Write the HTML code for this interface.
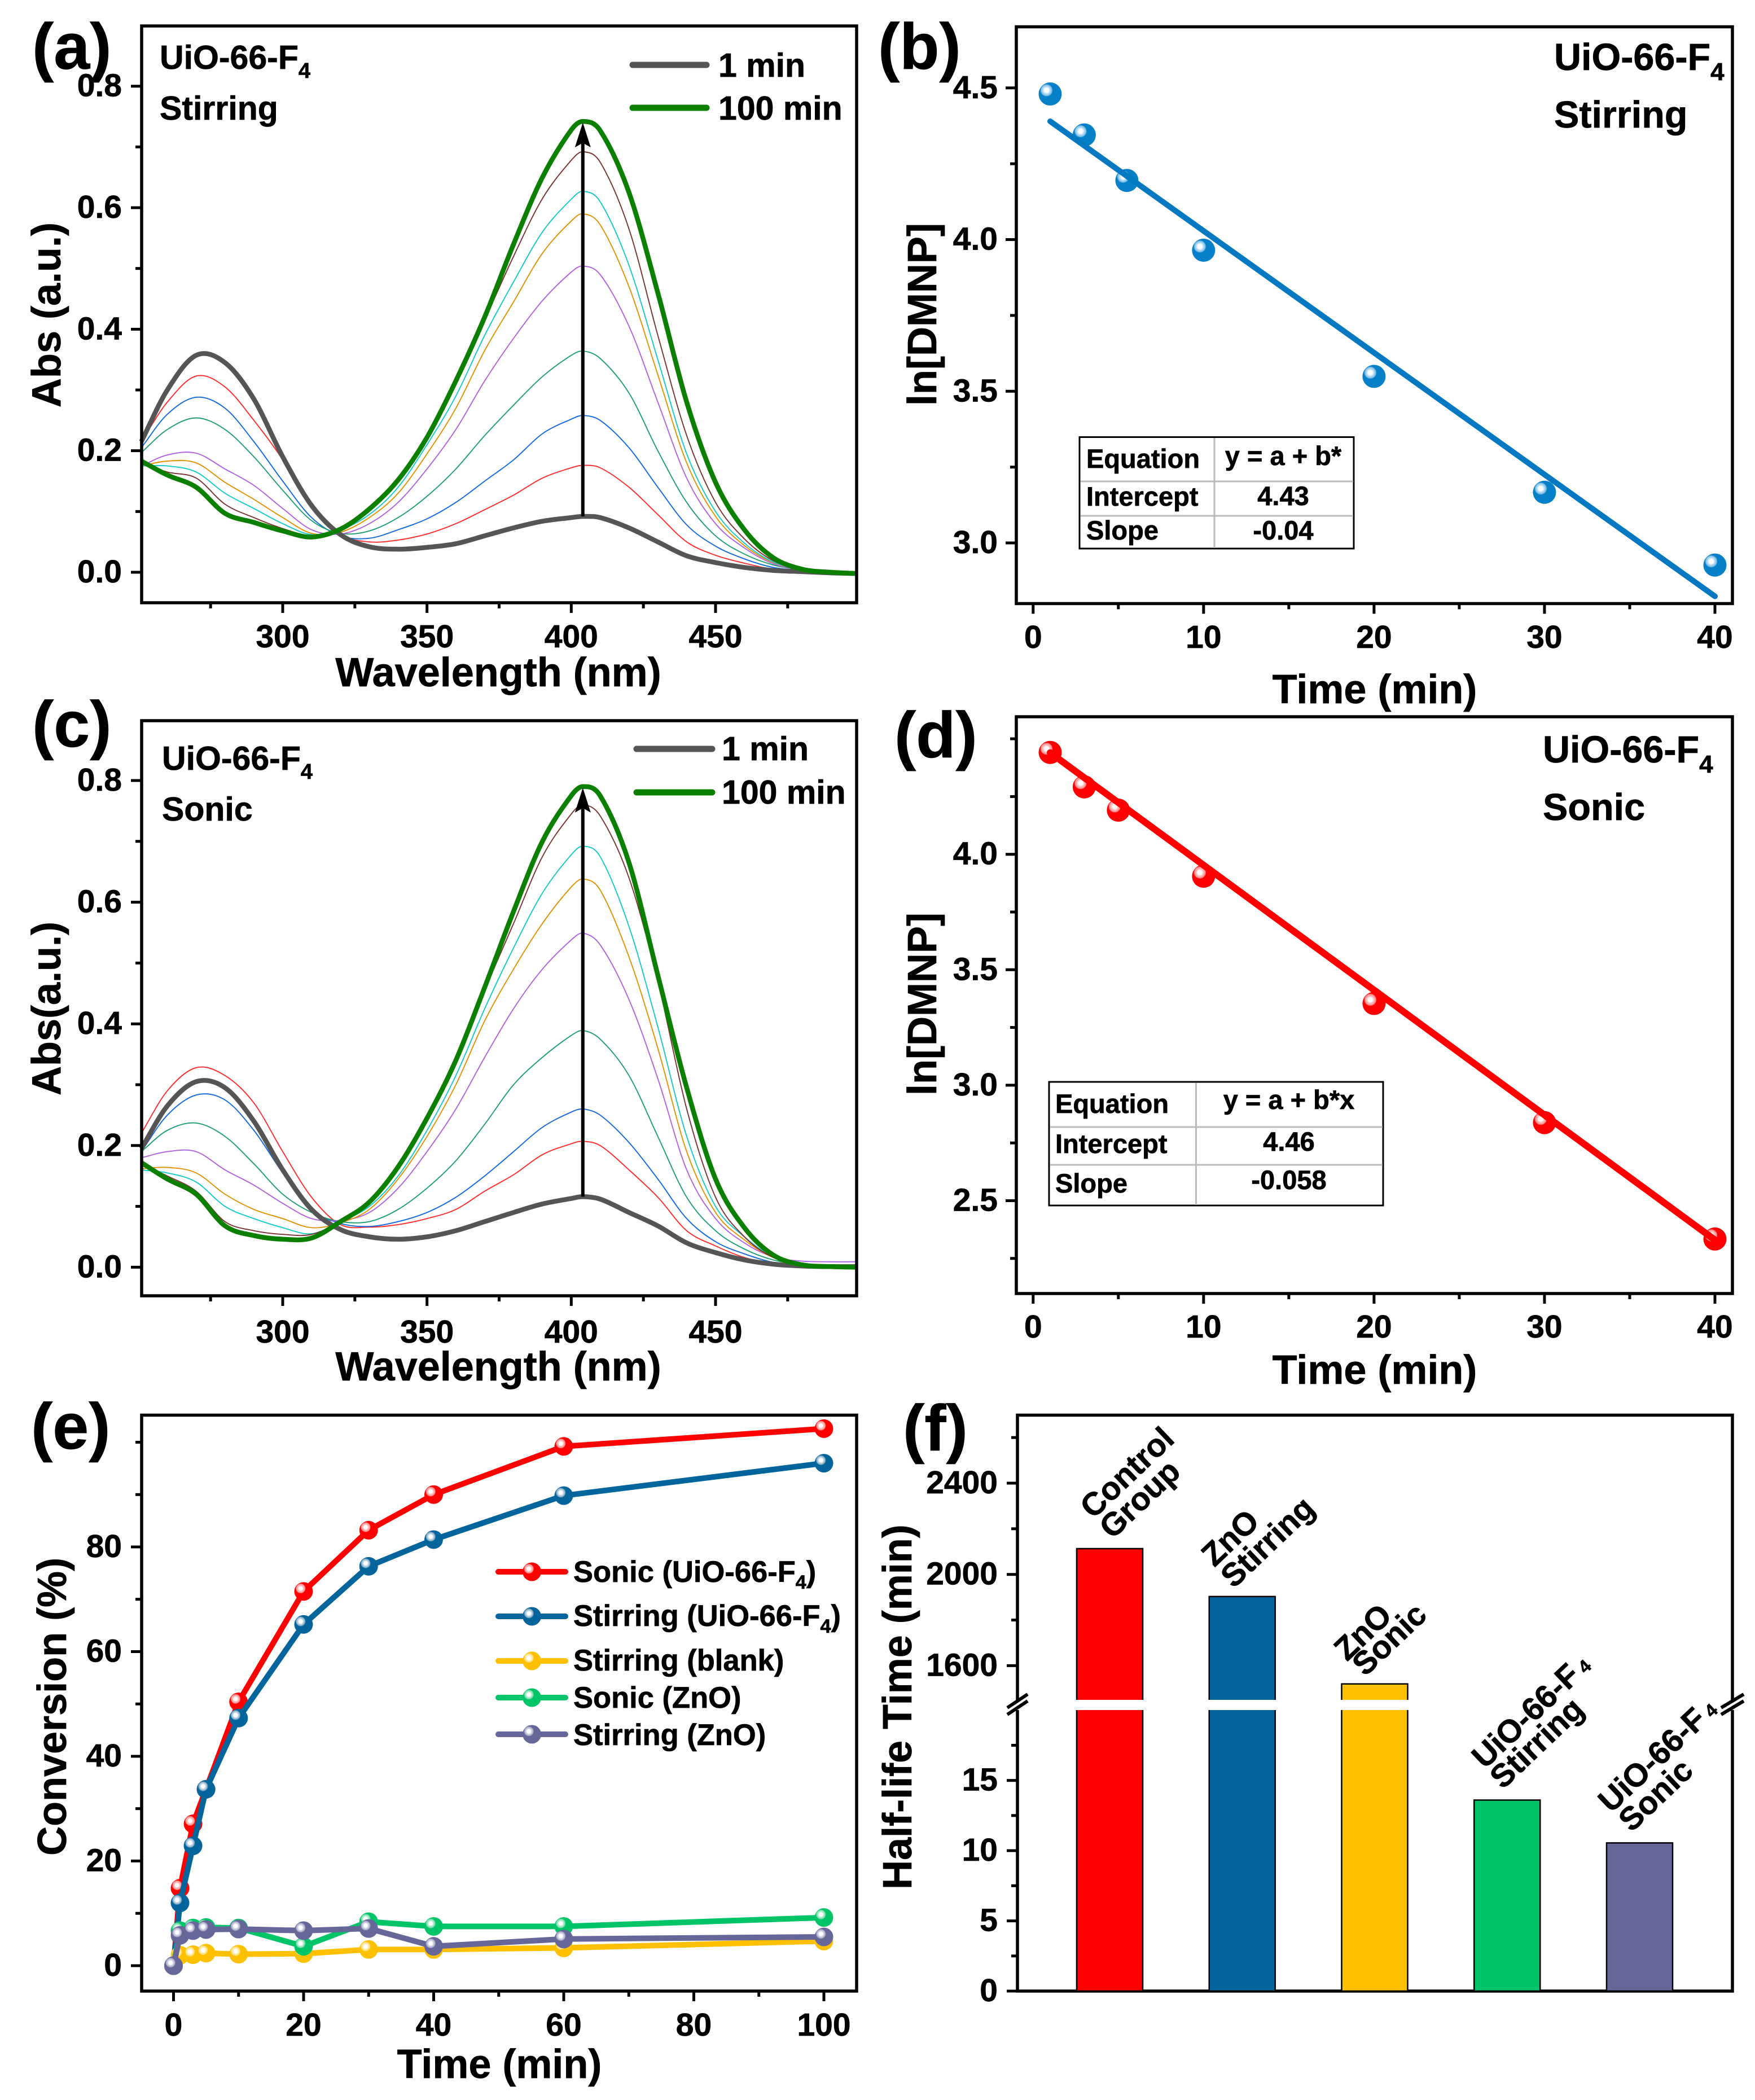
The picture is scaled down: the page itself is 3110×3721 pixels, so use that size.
<!DOCTYPE html>
<html lang="en">
<head>
<meta charset="utf-8">
<title>UiO-66-F4 DMNP hydrolysis figure</title>
<style>
html,body{margin:0;padding:0;background:#fff;}
svg{display:block;}
text{font-family:"Liberation Sans",sans-serif;font-weight:bold;fill:#000;stroke:#000;stroke-width:.7px;}
.frame{fill:none;stroke:#000;stroke-width:5.5;}
.axt{font-size:72px;}
.ann{font-size:59px;}
.ann2{font-size:66.5px;}
.let{font-size:115px;}
.tb{font-size:47px;}
.leg{font-size:52.5px;}
.bl{font-size:57px;}
</style>
</head>
<body>
<svg xmlns="http://www.w3.org/2000/svg" width="3110" height="3721" viewBox="0 0 3110 3721">
<defs>
<radialGradient id="grad-red" cx=".34" cy=".34" r=".62"><stop offset="0" stop-color="#fff"/><stop offset=".14" stop-color="#fff"/><stop offset=".24" stop-color="#ffc0c0"/><stop offset=".38" stop-color="#ff8c8c"/><stop offset=".44" stop-color="#ff0000"/><stop offset="1" stop-color="#ff0000"/></radialGradient>
<radialGradient id="grad-navy" cx=".34" cy=".34" r=".62"><stop offset="0" stop-color="#fff"/><stop offset=".14" stop-color="#fff"/><stop offset=".24" stop-color="#c4d8e6"/><stop offset=".38" stop-color="#7fa8c4"/><stop offset=".44" stop-color="#03659c"/><stop offset="1" stop-color="#03659c"/></radialGradient>
<radialGradient id="grad-yellow" cx=".34" cy=".34" r=".62"><stop offset="0" stop-color="#fff"/><stop offset=".14" stop-color="#fff"/><stop offset=".24" stop-color="#ffeeb8"/><stop offset=".38" stop-color="#ffdc70"/><stop offset=".44" stop-color="#ffc000"/><stop offset="1" stop-color="#ffc000"/></radialGradient>
<radialGradient id="grad-green" cx=".34" cy=".34" r=".62"><stop offset="0" stop-color="#fff"/><stop offset=".14" stop-color="#fff"/><stop offset=".24" stop-color="#b8eed2"/><stop offset=".38" stop-color="#70dca6"/><stop offset=".44" stop-color="#00c468"/><stop offset="1" stop-color="#00c468"/></radialGradient>
<radialGradient id="grad-purple" cx=".34" cy=".34" r=".62"><stop offset="0" stop-color="#fff"/><stop offset=".14" stop-color="#fff"/><stop offset=".24" stop-color="#d6d6e6"/><stop offset=".38" stop-color="#a8a8c8"/><stop offset=".44" stop-color="#666699"/><stop offset="1" stop-color="#666699"/></radialGradient>
<radialGradient id="grad-sky" cx=".34" cy=".34" r=".62"><stop offset="0" stop-color="#fff"/><stop offset=".14" stop-color="#fff"/><stop offset=".24" stop-color="#c0e0f4"/><stop offset=".38" stop-color="#78bce6"/><stop offset=".44" stop-color="#0680c8"/><stop offset="1" stop-color="#0680c8"/></radialGradient>
</defs>

<!-- Panel a -->
<g>
<g id="marks-a"></g>
<rect class="frame" x="251" y="46" width="1267" height="1022"/>
<g id="ticks-a"></g>
<text class="let" x="57" y="122">(a)</text>
<text class="ann" x="283" y="122">UiO-66-F<tspan dy="16" font-size="38">4</tspan></text>
<text class="ann" x="283" y="212">Stirring</text>
<line x1="1121" y1="115" x2="1252" y2="115" stroke="#555" stroke-width="11" stroke-linecap="round"/>
<text class="ann" x="1273" y="136">1 min</text>
<line x1="1121" y1="191" x2="1252" y2="191" stroke="#0b8000" stroke-width="11" stroke-linecap="round"/>
<text class="ann" x="1273" y="212">100 min</text>
<text class="axt" x="883" y="1216" text-anchor="middle">Wavelength (nm)</text>
<text class="axt" transform="translate(107,722) rotate(-90)">Abs (a.u.)</text>
</g>

<!-- Panel b -->
<g>
<g id="marks-b"></g>
<rect class="frame" x="1801" y="47.5" width="1269" height="1022"/>
<g id="ticks-b"></g>
<text class="let" x="1556" y="122">(b)</text>
<text class="ann2" x="2754" y="124">UiO-66-F<tspan dy="18" font-size="44">4</tspan></text>
<text class="ann2" x="2754" y="226">Stirring</text>
<g>
<rect x="1913" y="774.5" width="486" height="197.5" fill="#fff" stroke="#000" stroke-width="3"/>
<path d="M2152 776V971M1915 853H2398M1915 914H2398" stroke="#bbb" stroke-width="3" fill="none"/>
<text class="tb" x="1925" y="829">Equation</text>
<text class="tb" x="2274" y="824" text-anchor="middle">y = a + b*</text>
<text class="tb" x="1925" y="896">Intercept</text>
<text class="tb" x="2274" y="895" text-anchor="middle">4.43</text>
<text class="tb" x="1925" y="956">Slope</text>
<text class="tb" x="2274" y="956" text-anchor="middle">-0.04</text>
</g>
<text class="axt" x="2436" y="1246" text-anchor="middle">Time (min)</text>
<text class="axt" transform="translate(1659,719) rotate(-90)">ln[DMNP]</text>
</g>

<!-- Panel c -->
<g>
<g id="marks-c"></g>
<rect class="frame" x="251" y="1277" width="1267" height="1019"/>
<g id="ticks-c"></g>
<text class="let" x="57" y="1323">(c)</text>
<text class="ann" x="287" y="1364">UiO-66-F<tspan dy="16" font-size="38">4</tspan></text>
<text class="ann" x="287" y="1454">Sonic</text>
<line x1="1128" y1="1327" x2="1262" y2="1327" stroke="#555" stroke-width="11" stroke-linecap="round"/>
<text class="ann" x="1279" y="1347">1 min</text>
<line x1="1128" y1="1404" x2="1262" y2="1404" stroke="#0b8000" stroke-width="11" stroke-linecap="round"/>
<text class="ann" x="1279" y="1424">100 min</text>
<text class="axt" x="883" y="2446" text-anchor="middle">Wavelength (nm)</text>
<text class="axt" transform="translate(107,1941) rotate(-90)">Abs(a.u.)</text>
</g>

<!-- Panel d -->
<g>
<g id="marks-d"></g>
<rect class="frame" x="1801" y="1270" width="1269" height="1022"/>
<g id="ticks-d"></g>
<text class="let" x="1585" y="1342">(d)</text>
<text class="ann2" x="2734" y="1351">UiO-66-F<tspan dy="18" font-size="44">4</tspan></text>
<text class="ann2" x="2734" y="1453">Sonic</text>
<g>
<rect x="1859" y="1917" width="592" height="219" fill="#fff" stroke="#000" stroke-width="3"/>
<path d="M2119.5 1919V2135M1861 1997H2450M1861 2064H2450" stroke="#bbb" stroke-width="3" fill="none"/>
<text class="tb" x="1870" y="1972">Equation</text>
<text class="tb" x="2284" y="1965" text-anchor="middle">y = a + b*x</text>
<text class="tb" x="1870" y="2043">Intercept</text>
<text class="tb" x="2284" y="2039" text-anchor="middle">4.46</text>
<text class="tb" x="1870" y="2113">Slope</text>
<text class="tb" x="2284" y="2107" text-anchor="middle">-0.058</text>
</g>
<text class="axt" x="2436" y="2452" text-anchor="middle">Time (min)</text>
<text class="axt" transform="translate(1659,1941) rotate(-90)">ln[DMNP]</text>
</g>

<!-- Panel e -->
<g>
<g id="marks-e"></g>
<rect class="frame" x="251" y="2507.5" width="1267" height="1020.5"/>
<g id="ticks-e"></g>
<text class="let" x="55" y="2567">(e)</text>
<text class="leg" x="1016" y="2803">Sonic (UiO-66-F<tspan dy="12" font-size="34">4</tspan><tspan dy="-12">)</tspan></text>
<text class="leg" x="1016" y="2881">Stirring (UiO-66-F<tspan dy="12" font-size="34">4</tspan><tspan dy="-12">)</tspan></text>
<text class="leg" x="1016" y="2960">Stirring (blank)</text>
<text class="leg" x="1016" y="3026">Sonic (ZnO)</text>
<text class="leg" x="1016" y="3092">Stirring (ZnO)</text>
<text class="axt" x="885" y="3682" text-anchor="middle">Time (min)</text>
<text class="axt" transform="translate(117,3288) rotate(-90)">Conversion (%)</text>
</g>

<!-- Panel f -->
<g>
<rect class="frame" x="1803" y="2507.5" width="1267" height="1020.5"/>
<g id="marks-f"></g>
<g id="ticks-f"></g>
<g>
<rect x="1795" y="3012" width="16" height="18" fill="#fff"/>
<rect x="3062" y="3012" width="16" height="18" fill="#fff"/>
<path d="M1785 3026L1821 3002M1785 3038L1821 3014M3050 3026L3090 3002M3050 3038L3090 3014" stroke="#000" stroke-width="6" fill="none"/>
</g>
<text class="let" x="1600" y="2570">(f)</text>
<g>
<text class="bl" transform="translate(1937,2693) rotate(-43.5)">Control</text>
<text class="bl" transform="translate(1971,2729) rotate(-43.5)">Group</text>
<text class="bl" transform="translate(2152,2778) rotate(-43.5)">ZnO</text>
<text class="bl" transform="translate(2186,2816) rotate(-43.5)">Stirring</text>
<text class="bl" transform="translate(2387,2945) rotate(-43.5)">ZnO</text>
<text class="bl" transform="translate(2419,2972) rotate(-43.5)">Sonic</text>
<text class="bl" transform="translate(2631,3136) rotate(-43.5)">UiO-66-F<tspan dx="8" font-size="32">4</tspan></text>
<text class="bl" transform="translate(2663,3172) rotate(-43.5)">Stirring</text>
<text class="bl" transform="translate(2855,3214) rotate(-43.5)">UiO-66-F<tspan dx="8" font-size="32">4</tspan></text>
<text class="bl" transform="translate(2891,3248) rotate(-43.5)">Sonic</text>
</g>
<text class="axt" transform="translate(1615,3348) rotate(-90)">Half-life Time (min)</text>
</g>
</svg>

<script>
// ---------- Data: UV-vis spectra (wavelength grid, nm) ----------
const wavelengths = [251,260,270,280,290,300,310,320,330,340,350,360,370,380,390,400,404,410,420,430,440,450,460,470,480,490,499];
const spectraNames = ['1-min','red','blue','teal','purple','orange','cyan','brown','100-min'];
const spectraA0 = [.215,.30,.357,.345,.285,.19,.11,.062,.042,.038,.041,.047,.06,.073,.084,.090,.092,.09,.073,.05,.027,.016,.008,.003,.001,-.001,-.002];
const spectraA1 = [.215,.28,.323,.305,.25,.185,.105,.062,.05,.053,.063,.08,.103,.127,.155,.172,.176,.172,.14,.095,.05,.028,.015,.005,.002,0,-.001];
const spectraA2 = [.205,.26,.288,.27,.215,.15,.09,.06,.056,.07,.088,.115,.15,.185,.228,.252,.258,.25,.205,.14,.078,.043,.022,.008,.003,0,-.001];
const spectraA3 = [.197,.235,.254,.235,.19,.135,.085,.064,.068,.09,.125,.17,.225,.275,.322,.357,.364,.352,.295,.2,.115,.06,.03,.012,.004,0,-.001];
const spectraA4 = [.175,.193,.196,.17,.143,.105,.07,.063,.08,.115,.17,.235,.315,.385,.447,.494,.504,.49,.405,.28,.155,.08,.04,.014,.004,0,-.001];
const spectraA5 = [.175,.183,.18,.148,.12,.09,.064,.066,.09,.13,.195,.27,.365,.445,.525,.578,.59,.572,.47,.325,.18,.092,.044,.016,.005,0,-.001];
const spectraA6 = [.175,.175,.165,.13,.105,.08,.062,.07,.095,.14,.21,.29,.39,.478,.56,.614,.627,.61,.505,.35,.195,.1,.048,.017,.005,0,-.001];
const spectraA7 = [.18,.165,.155,.112,.09,.072,.06,.07,.1,.15,.222,.31,.415,.52,.615,.678,.692,.675,.565,.39,.225,.115,.055,.019,.005,0,-.001];
const spectraA8 = [.183,.16,.14,.097,.082,.068,.058,.071,.104,.152,.222,.315,.42,.54,.65,.728,.742,.727,.625,.46,.28,.148,.07,.024,.005,0,-.002];

const spectraC0 = [.195,.265,.305,.295,.24,.16,.095,.062,.05,.046,.05,.06,.075,.09,.104,.113,.116,.112,.09,.068,.04,.024,.012,.005,.002,.001,.001];
const spectraC1 = [.22,.29,.328,.315,.27,.19,.115,.07,.066,.07,.08,.095,.125,.152,.185,.203,.207,.2,.16,.115,.06,.035,.016,.006,.002,.002,.002];
const spectraC2 = [.19,.25,.283,.275,.225,.155,.095,.072,.067,.075,.09,.115,.15,.19,.23,.255,.26,.25,.205,.145,.08,.042,.022,.008,.003,.002,.002];
const spectraC3 = [.19,.225,.237,.215,.17,.12,.09,.075,.075,.095,.13,.175,.235,.30,.345,.381,.389,.375,.315,.215,.115,.06,.03,.012,.005,.004,.003];
const spectraC4 = [.18,.19,.19,.16,.135,.105,.08,.077,.09,.13,.19,.26,.345,.425,.49,.538,.549,.53,.44,.31,.16,.08,.04,.017,.01,.009,.009];
const spectraC5 = [.162,.164,.155,.12,.095,.08,.065,.073,.095,.145,.215,.3,.405,.49,.565,.625,.638,.62,.51,.36,.19,.09,.045,.016,.005,.004,.004];
const spectraC6 = [.16,.155,.14,.1,.08,.065,.055,.075,.1,.15,.225,.315,.425,.525,.615,.678,.692,.675,.56,.395,.215,.1,.05,.017,.005,.003,.003];
const spectraC7 = [.17,.15,.125,.075,.06,.054,.054,.075,.105,.16,.24,.335,.455,.565,.675,.745,.76,.742,.64,.47,.26,.115,.05,.016,.004,.002,.001];
const spectraC8 = [.172,.145,.12,.068,.052,.046,.048,.075,.107,.165,.245,.34,.46,.585,.70,.775,.79,.775,.665,.48,.295,.145,.065,.02,.004,.001,0];

// ---------- Data: kinetics ----------
const timeB = [1,3,5.5,10,20,30,40];
const lnB = [4.48,4.345,4.195,3.965,3.549,3.167,2.927];
const fitTimeB = [1,40];
const fitLnB = [4.39,2.824];
const timeD = [1,3,5,10,20,30,40];
const lnD = [4.441,4.292,4.191,3.905,3.354,2.838,2.334];
const fitTimeD = [1,40];
const fitLnD = [4.44,2.33];

// ---------- Data: conversion ----------
const timeE = [0,1,3,5,10,20,30,40,60,100];
const seriesNames = ['stirring-blank','sonic-zno','stirring-zno','sonic-uio','stirring-uio'];
const conversionBlank = [0,2,2.1,2.4,2.2,2.3,3.1,3.1,3.4,4.7];
const conversionSonicZnO = [0,6.7,7.2,7.3,7.2,3.7,8.4,7.5,7.5,9.2];
const conversionSonicUiO = [0,14.8,27.1,33.7,50.4,71.5,83.2,90,99.2,102.6];
const conversionStirUiO = [0,12,22.9,33.7,47.3,65.2,76.3,81.4,89.8,96];
const conversionStirZnO = [0,5.8,6.7,6.9,7,6.7,7.1,3.7,5.1,5.5];

// ---------- Data: half-life ----------
const barCategories = ['control-group','zno-stirring','zno-sonic','uio-stirring','uio-sonic'];
const halfLife = [2113,1903,1520,13.6,10.55];

// ---------- Tick labels ----------
const wlMajor = [300,350,400,450];
const wlMinor = [275,325,375,425,475];
const absMajor = ['0.0','0.2','0.4','0.6','0.8'];
const absMinor = [.1,.3,.5,.7];
const timeMajor = [0,10,20,30,40];
const timeMinor = [5,15,25,35];
const lnMajorB = ['3.0','3.5','4.0','4.5'];
const lnMinorB = [3.25,3.75,4.25];
const lnMajorD = ['2.5','3.0','3.5','4.0'];
const lnMinorD = [2.25,2.75,3.25,3.75,4.25,4.5];
const eXMajor = [0,20,40,60,80,100];
const eXMinor = [10,30,50,70,90];
const eYMajor = [0,20,40,60,80];
const eYMinor = [10,30,50,70,90,100];
const fUpperMajor = [1600,2000,2400];
const fUpperMinor = [1800,2200,2600];
const fLowerMajor = [0,5,10,15];
const fLowerMinor = [2.5,7.5,12.5,17.5];

const NS = 'http://www.w3.org/2000/svg';
function mk(tag, attrs, parent){
  const el = document.createElementNS(NS, tag);
  for (const k in attrs) el.setAttribute(k, attrs[k]);
  parent.appendChild(el);
  return el;
}
function scale(v1,p1,v2,p2){ return v => p1 + (v - v1) * (p2 - p1) / (v2 - v1); }
function smoothPath(pts){
  const n = pts.length;
  const m = pts.map((p,i) => {
    const a = pts[Math.max(i-1,0)], b = pts[Math.min(i+1,n-1)];
    return (b[1]-a[1]) / (b[0]-a[0]);
  });
  let d = 'M' + pts[0][0].toFixed(1) + ' ' + pts[0][1].toFixed(1);
  for (let i = 0; i < n - 1; i++){
    const h = pts[i+1][0] - pts[i][0];
    d += 'C' + (pts[i][0]+h/3).toFixed(1) + ' ' + (pts[i][1]+m[i]*h/3).toFixed(1) + ' ' + (pts[i+1][0]-h/3).toFixed(1) + ' ' + (pts[i+1][1]-m[i+1]*h/3).toFixed(1) + ' ' + pts[i+1][0].toFixed(1) + ' ' + pts[i+1][1].toFixed(1);
  }
  return d;
}
function drawTicksX(g, sx, yBase, major, minor, labelY){
  major.forEach(v => {
    const t = mk('line',{x1:sx(v),x2:sx(v),y1:yBase,y2:yBase+18,stroke:'#000','stroke-width':5},g);
    
    
    const l = mk('text',{x:sx(v),y:labelY,'text-anchor':'middle','font-size':57},g);
    l.textContent = String(v);
    
    
  });
  minor.forEach(v => {
    const t = mk('line',{x1:sx(v),x2:sx(v),y1:yBase,y2:yBase+10,stroke:'#000','stroke-width':5},g);
    
    
  });
}
function drawTicksY(g, sy, xBase, major, minor, labelX){
  major.forEach(v => {
    const y = sy(parseFloat(v));
    const t = mk('line',{x1:xBase-19,x2:xBase,y1:y,y2:y,stroke:'#000','stroke-width':5},g);
    
    
    const l = mk('text',{x:labelX,y:y+18,'text-anchor':'end','font-size':57},g);
    l.textContent = String(v);
    
    
  });
  minor.forEach(v => {
    const t = mk('line',{x1:xBase-11,x2:xBase,y1:sy(v),y2:sy(v),stroke:'#000','stroke-width':5},g);
    
    
  });
}
function drawSpectra(gId, curves, sx, sy){
  const g = document.getElementById(gId);
  const colors = ['#555555','#ff2a2a','#1068e0','#1c9e70','#b060e0','#e29000','#12c8c8','#7a3030','#0b8000'];
  const order = [1,2,3,4,5,6,7,0,8];
  order.forEach(idx => {
    const pts = wavelengths.map((w,i) => [sx(w), sy(curves[idx][i])]);
    const thick = idx === 0 || idx === 8;
    const p = mk('path',{d:smoothPath(pts),fill:'none',stroke:colors[idx],'stroke-width':thick?8.5:1.9,'stroke-linejoin':'round'},g);
    
    
  });
  const peakIdx = wavelengths.indexOf(404);
  const xA = sx(404), y0 = sy(curves[0][peakIdx]), y1 = sy(curves[8][peakIdx]);
  const shaft = mk('line',{x1:xA,x2:xA,y1:y0,y2:y1+30,stroke:'#000','stroke-width':6},g);
  
  
  const head = mk('path',{d:`M${xA} ${y1+2}L${xA+14} ${y1+46}L${xA} ${y1+38}L${xA-14} ${y1+46}Z`,fill:'#000'},g);
  
  
}
function drawKinetics(gId, t, v, ft, fv, sx, sy, color, grad, lw){
  const g = document.getElementById(gId);
  t.forEach((x,i) => {
    const c = mk('circle',{cx:sx(x),cy:sy(v[i]),r:20.5,fill:'url(#' + grad + ')'},g);
    
    
  });
  const fit = mk('line',{x1:sx(ft[0]),y1:sy(fv[0]),x2:sx(ft[1]),y2:sy(fv[1]),stroke:color,'stroke-width':lw,'stroke-linecap':'round'},g);
  
  
}

// Panel a
const sxA = scale(300,501,450,1268), syA = scale(0,1014,.8,152.7);
drawSpectra('marks-a',[spectraA0,spectraA1,spectraA2,spectraA3,spectraA4,spectraA5,spectraA6,spectraA7,spectraA8],sxA,syA);
drawTicksX(document.getElementById('ticks-a'),sxA,1068,wlMajor,wlMinor,1147);
drawTicksY(document.getElementById('ticks-a'),syA,251,absMajor,absMinor,216);

// Panel c
const syC = scale(0,2245.4,.8,1383);
drawSpectra('marks-c',[spectraC0,spectraC1,spectraC2,spectraC3,spectraC4,spectraC5,spectraC6,spectraC7,spectraC8],sxA,syC);
drawTicksX(document.getElementById('ticks-c'),sxA,2296,wlMajor,wlMinor,2379);
drawTicksY(document.getElementById('ticks-c'),syC,251,absMajor,absMinor,216);

// Panel b
const sxB = scale(0,1830.8,40,3039), syB = scale(3,962,4.5,155.8);
drawKinetics('marks-b',timeB,lnB,fitTimeB,fitLnB,sxB,syB,'#0478c0','grad-sky',10);
drawTicksX(document.getElementById('ticks-b'),sxB,1069.5,timeMajor,timeMinor,1148);
drawTicksY(document.getElementById('ticks-b'),syB,1801,lnMajorB,lnMinorB,1768);

// Panel d
const syD = scale(2.5,2127.5,4,1513.7);
drawKinetics('marks-d',timeD,lnD,fitTimeD,fitLnD,sxB,syD,'#ff0000','grad-red',12);
drawTicksX(document.getElementById('ticks-d'),sxB,2292,timeMajor,timeMinor,2370);
drawTicksY(document.getElementById('ticks-d'),syD,1801,lnMajorD,lnMinorD,1768);

// Panel e
const sxE = scale(0,307.5,100,1460), syE = scale(0,3483,80,2741);
const eSeries = [conversionBlank,conversionSonicZnO,conversionStirZnO,conversionSonicUiO,conversionStirUiO];
const eColors = ['#ffc000','#00c468','#666699','#ff0000','#03659c'];
const eGrads = ['grad-yellow','grad-green','grad-purple','grad-red','grad-navy'];
const gE = document.getElementById('marks-e');
[3,4,0,1,2].forEach(s => {
  const vals = eSeries[s];
  const d = timeE.map((t,i) => (i ? 'L' : 'M') + sxE(t).toFixed(1) + ' ' + syE(vals[i]).toFixed(1)).join('');
  const line = mk('path',{d:d,fill:'none',stroke:eColors[s],'stroke-width':10,'stroke-linejoin':'round'},gE);
  
  
  timeE.forEach((t,i) => {
    const c = mk('circle',{cx:sxE(t),cy:syE(vals[i]),r:16.5,fill:'url(#' + eGrads[s] + ')'},gE);
    
    
  });
});
// legend marks (order as drawn in the legend)
[3,4,0,1,2].forEach((s,row) => {
  const ly = [2785,2864,2943,3008,3073][row];
  const ll = mk('line',{x1:883,x2:1002,y1:ly,y2:ly,stroke:eColors[s],'stroke-width':10,'stroke-linecap':'round'},gE);
  
  
  const lc = mk('circle',{cx:942.5,cy:ly,r:16.5,fill:'url(#' + eGrads[s] + ')'},gE);
  
  
});
drawTicksX(document.getElementById('ticks-e'),sxE,3528,eXMajor,eXMinor,3607);
drawTicksY(document.getElementById('ticks-e'),syE,251,eYMajor,eYMinor,216);

// Panel f
const syFUpper = scale(1600,2951.4,2400,2628), syFLower = scale(0,3528,15,3154.7);
const gF = document.getElementById('marks-f');
const barColors = ['#ff0000','#03659c','#ffc000','#00c468','#666699'];
const barX = scale(0,1966.5,4,2905.5);
barCategories.forEach((name,i) => {
  const v = halfLife[i];
  const top = v >= 1000 ? syFUpper(v) : syFLower(v);
  const b = mk('rect',{x:barX(i)-58.5,y:top,width:117,height:3528-top,fill:barColors[i],stroke:'#000','stroke-width':2.5},gF);
  
  
  if (v >= 1000){
    const gap = mk('rect',{x:barX(i)-61,y:3012,width:122,height:18,fill:'#fff'},gF);
    
    
  }
});
const ticksF = document.getElementById('ticks-f');
drawTicksY(ticksF,syFUpper,1803,fUpperMajor,fUpperMinor,1768);
drawTicksY(ticksF,syFLower,1803,fLowerMajor,fLowerMinor,1768);
</script>
</body>
</html>
